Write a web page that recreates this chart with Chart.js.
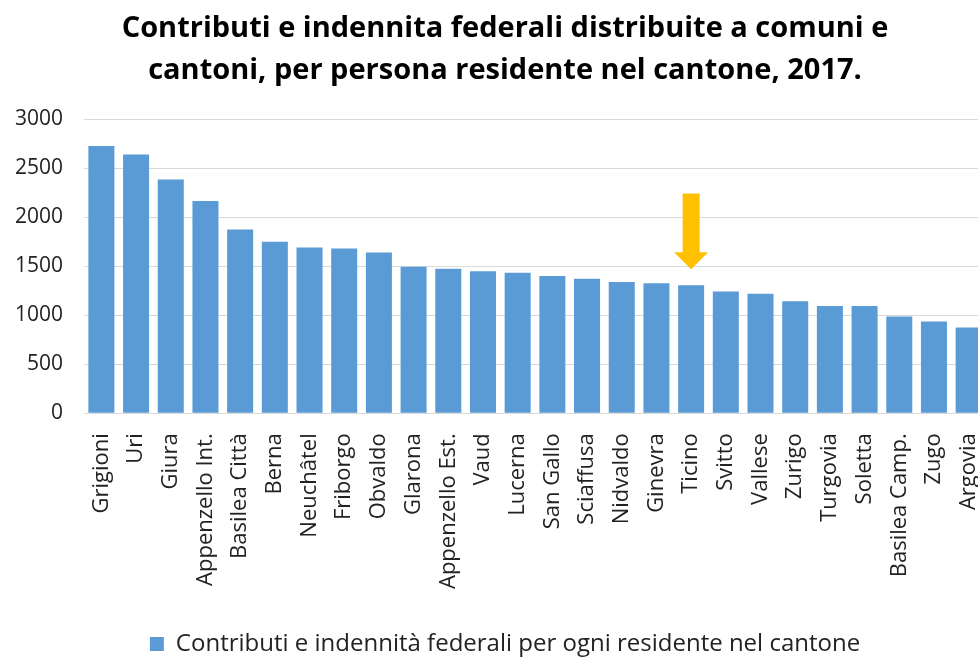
<!DOCTYPE html>
<html lang="it">
<head>
  <meta charset="UTF-8">
  <title>Contributi e indennità federali per cantone, 2017</title>
  <script src="https://cdn.jsdelivr.net/npm/chart.js"></script>
  <style>
    html, body { margin: 0; padding: 0; background: #fff; overflow: hidden; }
    canvas { display: block; }
  </style>
</head>
<body>
  <canvas id="cantoniChart" width="1016" height="670"></canvas>

  <script>
    const cantoni = ['Grigioni', 'Uri', 'Giura', 'Appenzello Int.', 'Basilea Città', 'Berna', 'Neuchâtel',
      'Friborgo', 'Obvaldo', 'Glarona', 'Appenzello Est.', 'Vaud', 'Lucerna', 'San Gallo', 'Sciaffusa',
      'Nidvaldo', 'Ginevra', 'Ticino', 'Svitto', 'Vallese', 'Zurigo', 'Turgovia', 'Soletta',
      'Basilea Camp.', 'Zugo', 'Argovia'];
    const contributiPerResidente = [2725, 2640, 2385, 2165, 1875, 1750, 1690, 1680, 1640, 1495, 1475, 1448,
      1433, 1400, 1372, 1338, 1325, 1305, 1243, 1218, 1143, 1095, 1093, 987, 935, 874];
    const yTicks = [0, 500, 1000, 1500, 2000, 2500, 3000];

    const titolo = ['Contributi e indennita federali distribuite a comuni e',
      'cantoni, per persona residente nel cantone, 2017.'];
    const legenda = 'Contributi e indennità federali per ogni residente nel cantone';

    // arrow pointing at Ticino, from/to in data units
    const frecciaCantone = 'Ticino';
    const frecciaDa = 2240;
    const frecciaA = 1470;

    const font = "'Open Sans', sans-serif";

    const frecciaPlugin = {
      id: 'freccia',
      afterDatasetsDraw(chart) {
        const x = chart.scales.x.getPixelForValue(cantoni.indexOf(frecciaCantone));
        const yTop = chart.scales.y.getPixelForValue(frecciaDa);
        const yTip = chart.scales.y.getPixelForValue(frecciaA);
        const headH = 17, headW = 17, shaftW = 8.5;
        const c = chart.ctx;
        c.save();
        c.fillStyle = '#FFC000';
        c.beginPath();
        c.moveTo(x - shaftW, yTop);
        c.lineTo(x + shaftW, yTop);
        c.lineTo(x + shaftW, yTip - headH);
        c.lineTo(x + headW, yTip - headH);
        c.lineTo(x, yTip);
        c.lineTo(x - headW, yTip - headH);
        c.lineTo(x - shaftW, yTip - headH);
        c.closePath();
        c.fill();
        c.restore();
      }
    };

    const ctx = document.getElementById('cantoniChart').getContext('2d');
    new Chart(ctx, {
      type: 'bar',
      data: {
        labels: cantoni,
        datasets: [{
          label: legenda,
          data: contributiPerResidente,
          backgroundColor: '#5B9BD5',
          categoryPercentage: 1,
          barPercentage: 0.75
        }]
      },
      options: {
        responsive: false,
        animation: false,
        layout: { padding: { left: -6, right: 0, top: 8, bottom: 4 } },
        plugins: {
          title: {
            display: true,
            text: titolo,
            color: '#000',
            font: { family: font, size: 29, weight: 'bold', lineHeight: 1.45 },
            padding: { top: 0, bottom: 27 }
          },
          legend: {
            position: 'bottom',
            labels: {
              color: '#222',
              font: { family: font, size: 24 },
              boxWidth: 14,
              boxHeight: 14,
              padding: 10
            }
          },
          tooltip: { enabled: false }
        },
        scales: {
          y: {
            min: 0,
            max: 3000,
            afterBuildTicks(axis) { axis.ticks = yTicks.map(v => ({ value: v })); },
            grid: { color: '#D9D9D9', drawTicks: false },
            border: { display: false },
            ticks: {
              color: '#222',
              font: { family: font, size: 21 },
              padding: 21,
              callback: v => String(v)
            }
          },
          // empty strip on the right so the plot stops short of the title width
          margineDestro: {
            position: 'right',
            grid: { display: false },
            border: { display: false },
            ticks: { display: false },
            afterFit(axis) { axis.width = 30; }
          },
          x: {
            grid: { display: false },
            border: { color: '#D9D9D9' },
            afterFit(axis) { axis.height += 21; },
            ticks: {
              color: '#222',
              font: { family: font, size: 22 },
              minRotation: 90,
              maxRotation: 90,
              autoSkip: false,
              padding: 12
            }
          }
        }
      },
      plugins: [frecciaPlugin]
    });
  </script>
</body>
</html>
